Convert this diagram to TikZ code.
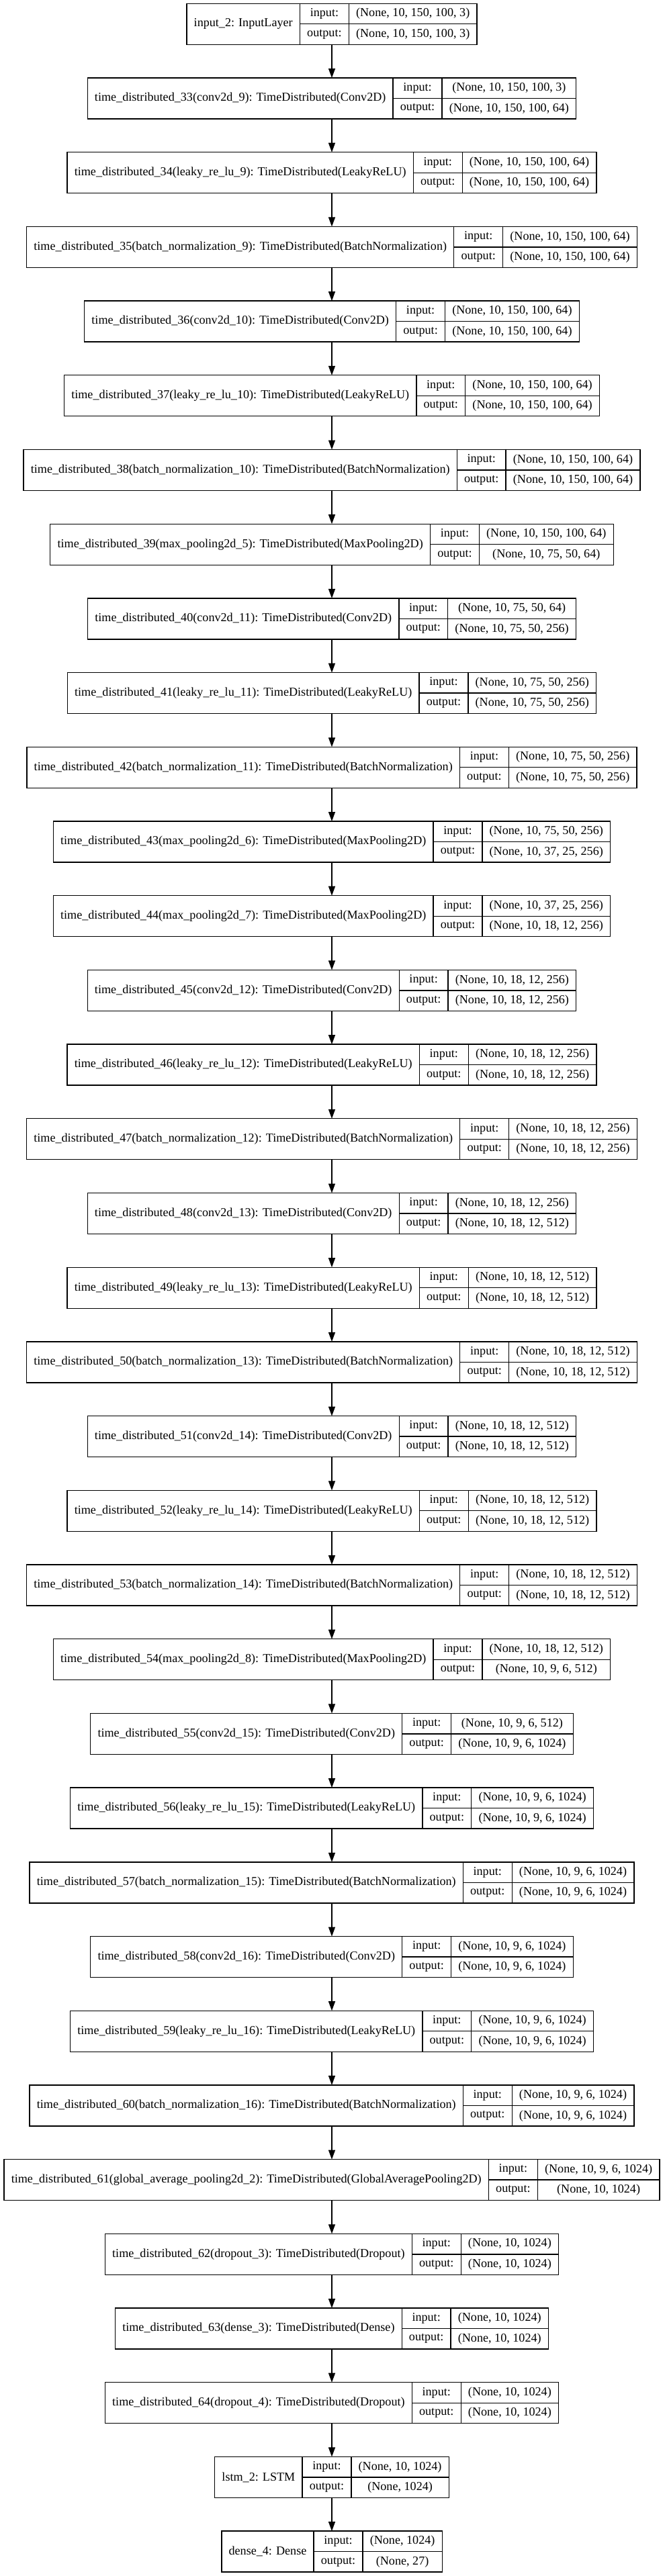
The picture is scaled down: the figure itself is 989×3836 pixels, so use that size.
\documentclass[tikz,border=0pt]{standalone}
\usepackage{fontspec}
\setmainfont{Liberation Serif}
\usepackage{tikz}
\usetikzlibrary{arrows.meta,positioning,calc}

\newlength\namew
\newlength\rolew
\newlength\shapew
\newlength\tmpw
\newcommand{\kerasfont}{\fontsize{18.13}{22}\selectfont}

\tikzset{
  cell/.style={draw, line width=1.33pt, inner sep=0pt, outer sep=0pt,
    minimum height=30.5pt, font=\kerasfont},
  layerbox/.style={draw, line width=1.33pt, inner sep=0pt, outer sep=0pt,
    minimum height=61pt},
  flow/.style={-{Triangle[length=14pt, width=10pt]}, line width=1.33pt}
}

% one record: name, label, input shape, output shape, row
\newcommand{\layer}[5]{%
  \pgfinterruptpicture
    \settowidth{\namew}{\kerasfont #2}\global\namew=\namew
    \settowidth{\rolew}{\kerasfont output:}\global\rolew=\rolew
    \settowidth{\shapew}{\kerasfont #3}\global\shapew=\shapew
    \settowidth{\tmpw}{\kerasfont #4}\global\tmpw=\tmpw
  \endpgfinterruptpicture
  \ifdim\tmpw>\shapew \setlength{\shapew}{\tmpw}\fi
  \addtolength{\namew}{21.5pt}\addtolength{\rolew}{21.5pt}\addtolength{\shapew}{21.5pt}%
  \node[layerbox, minimum width=\namew+\rolew+\shapew] (#1) at (494pt,{(-35.8-#5*110.7)*1pt}) {};
  \node[cell, minimum width=\namew, minimum height=61pt, anchor=north west] (#1-name) at (#1.north west) {#2};
  \node[cell, minimum width=\rolew, anchor=north west] (#1-inl) at (#1-name.north east) {input:};
  \node[cell, minimum width=\rolew, anchor=north west] (#1-outl) at (#1-inl.south west) {output:};
  \node[cell, minimum width=\shapew, anchor=north west] (#1-in) at (#1-inl.north east) {#3};
  \node[cell, minimum width=\shapew, anchor=north west] (#1-out) at (#1-in.south west) {#4};
}

\begin{document}
\begin{tikzpicture}
  \useasboundingbox (0,0) rectangle (989pt,-3836pt);

  % Input
  \layer{in2}{input\_2: InputLayer}{(None, 10, 150, 100, 3)}{(None, 10, 150, 100, 3)}{0}

  % Convolution blocks
  \layer{td33}{time\_distributed\_33(conv2d\_9): TimeDistributed(Conv2D)}{(None, 10, 150, 100, 3)}{(None, 10, 150, 100, 64)}{1}
  \layer{td34}{time\_distributed\_34(leaky\_re\_lu\_9): TimeDistributed(LeakyReLU)}{(None, 10, 150, 100, 64)}{(None, 10, 150, 100, 64)}{2}
  \layer{td35}{time\_distributed\_35(batch\_normalization\_9): TimeDistributed(BatchNormalization)}{(None, 10, 150, 100, 64)}{(None, 10, 150, 100, 64)}{3}
  \layer{td36}{time\_distributed\_36(conv2d\_10): TimeDistributed(Conv2D)}{(None, 10, 150, 100, 64)}{(None, 10, 150, 100, 64)}{4}
  \layer{td37}{time\_distributed\_37(leaky\_re\_lu\_10): TimeDistributed(LeakyReLU)}{(None, 10, 150, 100, 64)}{(None, 10, 150, 100, 64)}{5}
  \layer{td38}{time\_distributed\_38(batch\_normalization\_10): TimeDistributed(BatchNormalization)}{(None, 10, 150, 100, 64)}{(None, 10, 150, 100, 64)}{6}
  \layer{td39}{time\_distributed\_39(max\_pooling2d\_5): TimeDistributed(MaxPooling2D)}{(None, 10, 150, 100, 64)}{(None, 10, 75, 50, 64)}{7}
  \layer{td40}{time\_distributed\_40(conv2d\_11): TimeDistributed(Conv2D)}{(None, 10, 75, 50, 64)}{(None, 10, 75, 50, 256)}{8}
  \layer{td41}{time\_distributed\_41(leaky\_re\_lu\_11): TimeDistributed(LeakyReLU)}{(None, 10, 75, 50, 256)}{(None, 10, 75, 50, 256)}{9}
  \layer{td42}{time\_distributed\_42(batch\_normalization\_11): TimeDistributed(BatchNormalization)}{(None, 10, 75, 50, 256)}{(None, 10, 75, 50, 256)}{10}
  \layer{td43}{time\_distributed\_43(max\_pooling2d\_6): TimeDistributed(MaxPooling2D)}{(None, 10, 75, 50, 256)}{(None, 10, 37, 25, 256)}{11}
  \layer{td44}{time\_distributed\_44(max\_pooling2d\_7): TimeDistributed(MaxPooling2D)}{(None, 10, 37, 25, 256)}{(None, 10, 18, 12, 256)}{12}
  \layer{td45}{time\_distributed\_45(conv2d\_12): TimeDistributed(Conv2D)}{(None, 10, 18, 12, 256)}{(None, 10, 18, 12, 256)}{13}
  \layer{td46}{time\_distributed\_46(leaky\_re\_lu\_12): TimeDistributed(LeakyReLU)}{(None, 10, 18, 12, 256)}{(None, 10, 18, 12, 256)}{14}
  \layer{td47}{time\_distributed\_47(batch\_normalization\_12): TimeDistributed(BatchNormalization)}{(None, 10, 18, 12, 256)}{(None, 10, 18, 12, 256)}{15}
  \layer{td48}{time\_distributed\_48(conv2d\_13): TimeDistributed(Conv2D)}{(None, 10, 18, 12, 256)}{(None, 10, 18, 12, 512)}{16}
  \layer{td49}{time\_distributed\_49(leaky\_re\_lu\_13): TimeDistributed(LeakyReLU)}{(None, 10, 18, 12, 512)}{(None, 10, 18, 12, 512)}{17}
  \layer{td50}{time\_distributed\_50(batch\_normalization\_13): TimeDistributed(BatchNormalization)}{(None, 10, 18, 12, 512)}{(None, 10, 18, 12, 512)}{18}
  \layer{td51}{time\_distributed\_51(conv2d\_14): TimeDistributed(Conv2D)}{(None, 10, 18, 12, 512)}{(None, 10, 18, 12, 512)}{19}
  \layer{td52}{time\_distributed\_52(leaky\_re\_lu\_14): TimeDistributed(LeakyReLU)}{(None, 10, 18, 12, 512)}{(None, 10, 18, 12, 512)}{20}
  \layer{td53}{time\_distributed\_53(batch\_normalization\_14): TimeDistributed(BatchNormalization)}{(None, 10, 18, 12, 512)}{(None, 10, 18, 12, 512)}{21}
  \layer{td54}{time\_distributed\_54(max\_pooling2d\_8): TimeDistributed(MaxPooling2D)}{(None, 10, 18, 12, 512)}{(None, 10, 9, 6, 512)}{22}
  \layer{td55}{time\_distributed\_55(conv2d\_15): TimeDistributed(Conv2D)}{(None, 10, 9, 6, 512)}{(None, 10, 9, 6, 1024)}{23}
  \layer{td56}{time\_distributed\_56(leaky\_re\_lu\_15): TimeDistributed(LeakyReLU)}{(None, 10, 9, 6, 1024)}{(None, 10, 9, 6, 1024)}{24}
  \layer{td57}{time\_distributed\_57(batch\_normalization\_15): TimeDistributed(BatchNormalization)}{(None, 10, 9, 6, 1024)}{(None, 10, 9, 6, 1024)}{25}
  \layer{td58}{time\_distributed\_58(conv2d\_16): TimeDistributed(Conv2D)}{(None, 10, 9, 6, 1024)}{(None, 10, 9, 6, 1024)}{26}
  \layer{td59}{time\_distributed\_59(leaky\_re\_lu\_16): TimeDistributed(LeakyReLU)}{(None, 10, 9, 6, 1024)}{(None, 10, 9, 6, 1024)}{27}
  \layer{td60}{time\_distributed\_60(batch\_normalization\_16): TimeDistributed(BatchNormalization)}{(None, 10, 9, 6, 1024)}{(None, 10, 9, 6, 1024)}{28}

  % Head
  \layer{td61}{time\_distributed\_61(global\_average\_pooling2d\_2): TimeDistributed(GlobalAveragePooling2D)}{(None, 10, 9, 6, 1024)}{(None, 10, 1024)}{29}
  \layer{td62}{time\_distributed\_62(dropout\_3): TimeDistributed(Dropout)}{(None, 10, 1024)}{(None, 10, 1024)}{30}
  \layer{td63}{time\_distributed\_63(dense\_3): TimeDistributed(Dense)}{(None, 10, 1024)}{(None, 10, 1024)}{31}
  \layer{td64}{time\_distributed\_64(dropout\_4): TimeDistributed(Dropout)}{(None, 10, 1024)}{(None, 10, 1024)}{32}
  \layer{lstm2}{lstm\_2: LSTM}{(None, 10, 1024)}{(None, 1024)}{33}
  \layer{dense4}{dense\_4: Dense}{(None, 1024)}{(None, 27)}{34}

  % Arrows
  \foreach \a/\b in {in2/td33, td33/td34, td34/td35, td35/td36, td36/td37, td37/td38,
      td38/td39, td39/td40, td40/td41, td41/td42, td42/td43, td43/td44, td44/td45,
      td45/td46, td46/td47, td47/td48, td48/td49, td49/td50, td50/td51, td51/td52,
      td52/td53, td53/td54, td54/td55, td55/td56, td56/td57, td57/td58, td58/td59,
      td59/td60, td60/td61, td61/td62, td62/td63, td63/td64, td64/lstm2, lstm2/dense4}
    \draw[flow] (\a.south) -- (\b.north);
\end{tikzpicture}
\end{document}
